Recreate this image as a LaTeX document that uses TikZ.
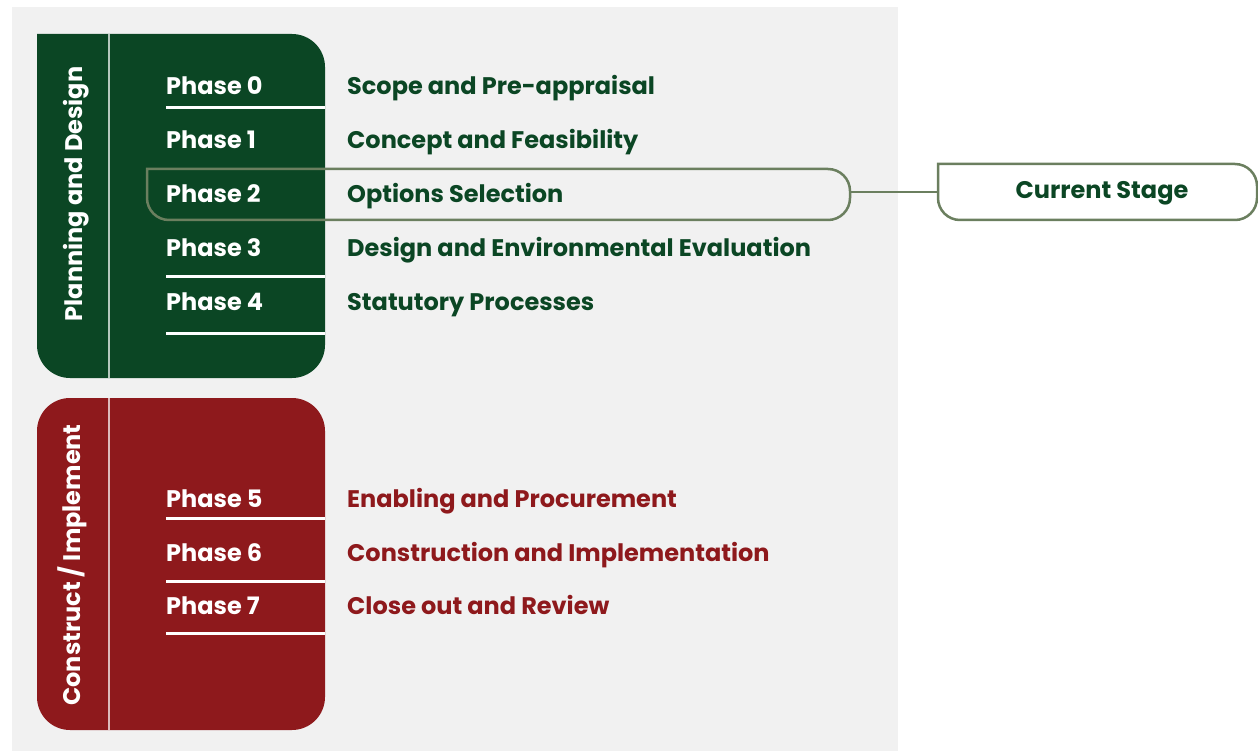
\documentclass[tikz,border=0pt]{standalone}
\usepackage{fontspec}
\setmainfont{Poppins}
\usetikzlibrary{calc}
\definecolor{pdgreen}{RGB}{11,70,36}
\definecolor{pdred}{RGB}{142,25,28}
\definecolor{bggray}{RGB}{241,241,241}
\definecolor{hlgreen}{RGB}{107,127,95}
\tikzset{
  phaselbl/.style={anchor=base west, inner sep=0pt, text=white, font=\fontsize{24}{28}\selectfont\bfseries},
  greendesc/.style={anchor=base west, inner sep=0pt, text=pdgreen, font=\fontsize{24}{28}\selectfont\bfseries},
  reddesc/.style={anchor=base west, inner sep=0pt, text=pdred, font=\fontsize{24}{28}\selectfont\bfseries},
  sidelbl/.style={anchor=base, inner sep=0pt, rotate=90, text=white, font=\fontsize{24}{28}\selectfont\bfseries},
  underline/.style={draw=white, line width=3pt},
  divider/.style={draw=white, draw opacity=0.7, line width=2pt},
  hlline/.style={draw=hlgreen, line width=2.5pt},
}
\begin{document}
\begin{tikzpicture}[x=1pt,y=-1pt]
\useasboundingbox (0,0) rectangle (1258,751);
% background
\fill[bggray] (12,7) rectangle (898,751);
% green block
\fill[pdgreen] (37,200) -- (37,34) -- (150,34) [rounded corners=33pt] -- (325,34) -- (325,378) -- (37,378) -- cycle;
\draw[divider] (109,34) -- (109,378);
% red block
\fill[pdred, rounded corners=33pt] (37,398) rectangle (325,730);
\draw[divider] (109,398) -- (109,730);
% side labels
\node[sidelbl] (pd) at (82,194) {Planning and Design};
\node[sidelbl] (ci) at (80,565) {Construct / Implement};
% underlines
\draw[underline] (166,108) -- (325,108);
\draw[underline] (166,277) -- (325,277);
\draw[underline] (166,333) -- (325,333);
\draw[underline] (166,518) -- (325,518);
\draw[underline] (166,581) -- (325,581);
\draw[underline] (166,633) -- (325,633);
% phases
\node[phaselbl] (p0) at (166,95) {Phase 0};
\node[phaselbl] (p1) at (166,149) {Phase 1};
\node[phaselbl] (p2) at (166,203) {Phase 2};
\node[phaselbl] (p3) at (166,257) {Phase 3};
\node[phaselbl] (p4) at (166,311) {Phase 4};
\node[phaselbl] (p5) at (166,507) {Phase 5};
\node[phaselbl] (p6) at (166,561) {Phase 6};
\node[phaselbl] (p7) at (166,614) {Phase 7};
\node[greendesc] (d0) at (347,95) {Scope and Pre-appraisal};
\node[greendesc] (d1) at (347,149) {Concept and Feasibility};
\node[greendesc] (d2) at (347,203) {Options Selection};
\node[greendesc] (d3) at (347,257) {Design and Environmental Evaluation};
\node[greendesc] (d4) at (347,311) {Statutory Processes};
\node[reddesc] (d5) at (347,507) {Enabling and Procurement};
\node[reddesc] (d6) at (347,561) {Construction and Implementation};
\node[reddesc] (d7) at (347,614) {Close out and Review};
% highlight frame
\node[inner sep=0pt, minimum width=703pt, minimum height=51pt] (hl) at (498.5,194.5) {};
\draw[hlline] (500,169) -- (147,169) -- (147,190) [rounded corners=22pt] -- (147,220) -- (850,220) -- (850,169) -- cycle;
% current stage
\node[inner sep=0pt, minimum width=319pt, minimum height=56pt, text=pdgreen, font=\fontsize{24}{28}\selectfont\bfseries] (cs) at (1097.5,192) {};
\node[inner sep=0pt, text=pdgreen, font=\fontsize{24}{28}\selectfont\bfseries] (cst) at (1102,193) {Current Stage};
\draw[hlline] (1100,164) -- (938,164) -- (938,190) [rounded corners=22pt] -- (938,220) -- (1257,220) -- (1257,164) -- cycle;
\draw[hlline] (hl.east |- cs.west) -- (cs.west);
\end{tikzpicture}
\end{document}
